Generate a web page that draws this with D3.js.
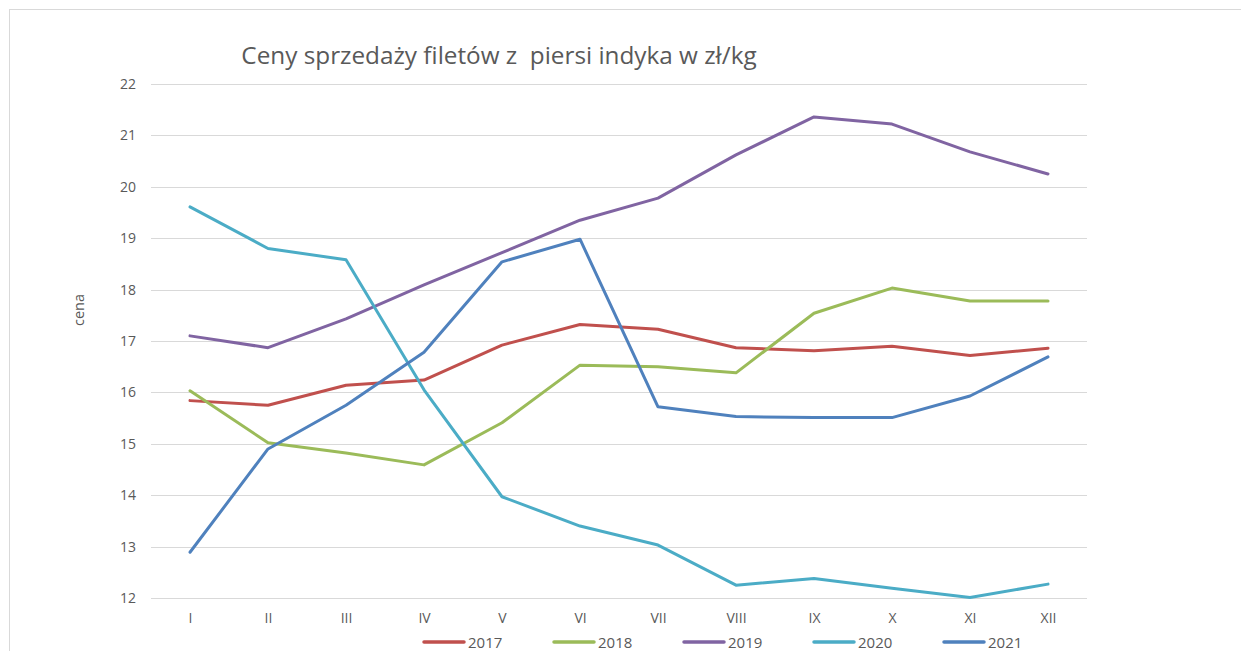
<!DOCTYPE html>
<html>
<head>
<meta charset="utf-8">
<script src="https://cdn.jsdelivr.net/npm/d3@7"></script>
<style>
  html, body { margin: 0; padding: 0; background: #fff; }
  svg { display: block; }
  text { font-family: "Open Sans", "Noto Sans", sans-serif; fill: #595959; }
</style>
</head>
<body>
<svg id="chart" width="1241" height="651"></svg>
<script>
const months = ["I","II","III","IV","V","VI","VII","VIII","IX","X","XI","XII"];
const years = ["2017","2018","2019","2020","2021"];
const s2017 = [15.84,15.75,16.14,16.24,16.92,17.32,17.23,16.87,16.81,16.90,16.72,16.86];
const s2018 = [16.03,15.02,14.82,14.59,15.41,16.53,16.50,16.38,17.54,18.03,17.78,17.78];
const s2019 = [17.10,16.87,17.43,18.09,18.72,19.35,19.78,20.62,21.36,21.22,20.68,20.25];
const s2020 = [19.61,18.80,18.58,16.05,13.97,13.40,13.03,12.25,12.38,12.19,12.01,12.27];
const s2021 = [12.89,14.90,15.75,16.78,18.54,18.98,15.72,15.53,15.51,15.51,15.93,16.69];
const yTicks = [12,13,14,15,16,17,18,19,20,21,22];
const colors = ["#C0504D","#9BBB59","#8064A2","#4BACC6","#4F81BD"];
const title = "Ceny sprzedaży filetów z  piersi indyka w zł/kg";
const yLabel = "cena";

const seriesList = [s2017, s2018, s2019, s2020, s2021];
const svg = d3.select("#chart");

// outer frame
svg.append("rect").attr("x", 9.5).attr("y", 9.5).attr("width", 1300).attr("height", 700)
  .attr("fill", "none").attr("stroke", "#D9D9D9").attr("stroke-width", 1);

const plotLeft = 151, plotRight = 1087;
const x = d3.scalePoint().domain(months).range([190, 1048]);
const y = d3.scaleLinear().domain([12, 22]).range([598, 84]);

// gridlines
svg.append("g").selectAll("line").data(yTicks).join("line")
  .attr("x1", plotLeft).attr("x2", plotRight)
  .attr("y1", d => Math.round(y(d)) + 0.5).attr("y2", d => Math.round(y(d)) + 0.5)
  .attr("stroke", "#D9D9D9").attr("stroke-width", 1);

// y axis labels
const yAxis = d3.axisLeft(y).tickValues(yTicks).tickSize(0).tickPadding(0);
const gy = svg.append("g").attr("transform", "translate(136,0)").call(yAxis);
gy.select(".domain").remove();
gy.selectAll("text").style("font-size", "14px").attr("fill", "#595959")
  .style("font-family", "'Open Sans', sans-serif");

// x axis labels
const xAxis = d3.axisBottom(x).tickSize(0).tickPadding(0);
const gx = svg.append("g").attr("transform", "translate(0,613)").call(xAxis);
gx.select(".domain").remove();
gx.selectAll("text").style("font-size", "14px").attr("fill", "#595959")
  .style("font-family", "'Open Sans', sans-serif");

// y label
svg.append("text").attr("transform", "translate(84,310) rotate(-90)")
  .attr("text-anchor", "middle").style("font-size", "14.5px").text(yLabel);

// title
svg.append("text").attr("x", 499).attr("y", 64).attr("text-anchor", "middle")
  .style("font-size", "24.3px").style("white-space", "pre").attr("xml:space", "preserve")
  .text(title);

// lines
const line = d3.line().x((d, i) => x(months[i])).y(d => y(d));
svg.append("g").selectAll("path").data(seriesList).join("path")
  .attr("d", d => line(d))
  .attr("fill", "none")
  .attr("stroke", (d, i) => colors[i])
  .attr("stroke-width", 3)
  .attr("stroke-linejoin", "round")
  .attr("stroke-linecap", "round");

// legend
const legend = svg.append("g");
const lx0 = 424, lstep = 130;
years.forEach((yr, i) => {
  const gx0 = lx0 + i * lstep;
  legend.append("line").attr("x1", gx0).attr("x2", gx0 + 40)
    .attr("y1", 642).attr("y2", 642)
    .attr("stroke", colors[i]).attr("stroke-width", 3.5).attr("stroke-linecap", "round");
  legend.append("text").attr("x", gx0 + 44).attr("y", 647.5)
    .style("font-size", "15px").text(yr);
});
</script>
</body>
</html>
